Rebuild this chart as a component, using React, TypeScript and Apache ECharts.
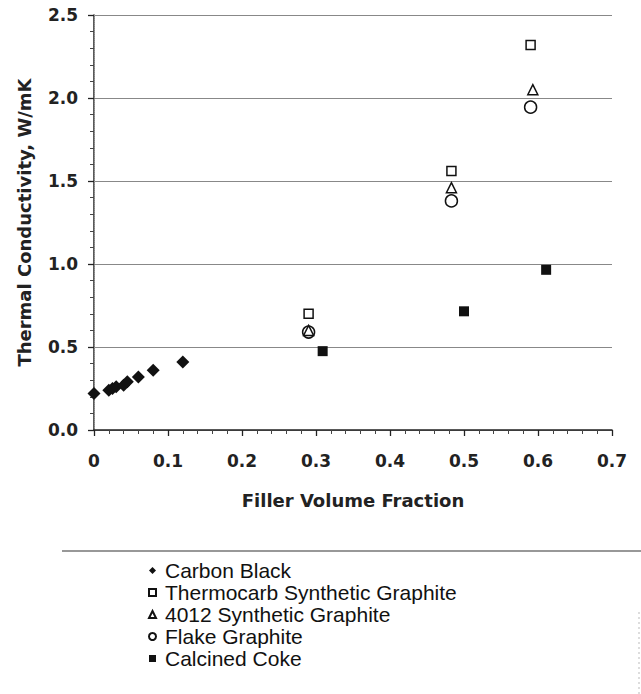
import React, { useEffect, useRef } from "react";
import * as echarts from "echarts";

const seriesNames = [
  "Carbon Black",
  "Thermocarb Synthetic Graphite",
  "4012 Synthetic Graphite",
  "Flake Graphite",
  "Calcined Coke",
];

const carbonBlackX = [0, 0.02, 0.025, 0.03, 0.04, 0.045, 0.06, 0.08, 0.12];
const carbonBlackY = [0.22, 0.24, 0.25, 0.26, 0.27, 0.29, 0.32, 0.36, 0.41];
const thermocarbX = [0.29, 0.483, 0.59];
const thermocarbY = [0.7, 1.56, 2.32];
const synth4012X = [0.29, 0.483, 0.593];
const synth4012Y = [0.6, 1.46, 2.05];
const flakeX = [0.29, 0.483, 0.59];
const flakeY = [0.59, 1.38, 1.945];
const cokeX = [0.309, 0.5, 0.611];
const cokeY = [0.475, 0.715, 0.965];

const xTicks = [0, 0.1, 0.2, 0.3, 0.4, 0.5, 0.6, 0.7];
const yTicks = [0, 0.5, 1.0, 1.5, 2.0, 2.5];

const zip = (xs: number[], ys: number[]) => xs.map((x, i) => [x, ys[i]]);

export default function App() {
  const ref = useRef<HTMLDivElement>(null);
  useEffect(() => {
    if (!ref.current) return;
    const chart = echarts.init(ref.current, undefined, { renderer: "svg" });
    const tickFont = {
      fontFamily: "DejaVu Sans",
      fontWeight: "bold" as const,
      fontSize: 17,
      color: "#222",
    };
    const titleFont = { ...tickFont, fontSize: 18 };
    const openStyle = { color: "#fff", borderColor: "#111", borderWidth: 1.5, opacity: 1 };
    const solidStyle = { color: "#111", opacity: 1 };
    chart.setOption({
      animation: false,
      backgroundColor: "#fff",
      grid: { left: 94, right: 29, top: 15, bottom: 264, containLabel: false },
      legend: {
        orient: "vertical",
        left: 148,
        top: 560,
        padding: 0,
        itemWidth: 7,
        itemHeight: 7,
        itemGap: 1,
        textStyle: {
          fontFamily: "Liberation Sans",
          fontSize: 21,
          lineHeight: 21,
          color: "#111",
          padding: [0, 0, 0, 4],
        },
        data: seriesNames,
      },
      xAxis: {
        type: "value",
        min: xTicks[0],
        max: xTicks[xTicks.length - 1],
        interval: 0.1,
        name: "Filler Volume Fraction",
        nameLocation: "middle",
        nameGap: 61,
        nameTextStyle: titleFont,
        axisLine: { show: true, onZero: false, lineStyle: { color: "#222", width: 1.5 } },
        axisTick: { show: true, length: 6, lineStyle: { color: "#222", width: 1.3 } },
        minorTick: { show: true, splitNumber: 5, length: 4, lineStyle: { color: "#444" } },
        axisLabel: {
          ...tickFont,
          margin: 22,
          formatter: (v: number) => (v === 0 ? "0" : v.toFixed(1)),
        },
        splitLine: { show: false },
      },
      yAxis: [
        {
          type: "value",
          min: yTicks[0],
          max: yTicks[yTicks.length - 1],
          interval: 0.5,
          name: "Thermal Conductivity, W/mK",
          nameLocation: "middle",
          nameGap: 61,
          nameTextStyle: titleFont,
          axisLine: { show: true, onZero: false, lineStyle: { color: "#222", width: 1.5 } },
          axisTick: { show: true, length: 6, lineStyle: { color: "#222", width: 1.3 } },
          minorTick: { show: true, splitNumber: 5, length: 4, lineStyle: { color: "#444" } },
          axisLabel: {
            ...tickFont,
            margin: 16,
            formatter: (v: number) => v.toFixed(1),
          },
          splitLine: { show: true, lineStyle: { color: "#888", width: 1 } },
        },
        {
          type: "value",
          position: "right",
          min: yTicks[0],
          max: yTicks[yTicks.length - 1],
          interval: 0.5,
          axisLine: { show: true, lineStyle: { color: "#999", width: 1, type: "dotted" } },
          axisTick: { show: false },
          axisLabel: { show: false },
          splitLine: { show: false },
        },
      ],
      graphic: [
        {
          type: "line",
          shape: { x1: 62, y1: 551, x2: 641, y2: 551 },
          style: { stroke: "#333", lineWidth: 1.2 },
        },
        {
          type: "line",
          shape: { x1: 639, y1: 612, x2: 639, y2: 694 },
          style: { stroke: "#bbb", lineWidth: 1, lineDash: [2, 3] },
        },
      ],
      series: [
        {
          name: seriesNames[0],
          type: "scatter",
          symbol: "diamond",
          symbolSize: 13,
          itemStyle: solidStyle,
          data: zip(carbonBlackX, carbonBlackY),
        },
        {
          name: seriesNames[1],
          type: "scatter",
          symbol: "rect",
          symbolSize: 9,
          itemStyle: openStyle,
          data: zip(thermocarbX, thermocarbY),
        },
        {
          name: seriesNames[2],
          type: "scatter",
          symbol: "triangle",
          symbolSize: 10,
          z: 4,
          itemStyle: openStyle,
          data: zip(synth4012X, synth4012Y),
        },
        {
          name: seriesNames[3],
          type: "scatter",
          symbol: "circle",
          symbolSize: 12,
          z: 3,
          itemStyle: openStyle,
          data: zip(flakeX, flakeY),
        },
        {
          name: seriesNames[4],
          type: "scatter",
          symbol: "rect",
          symbolSize: 10,
          itemStyle: solidStyle,
          data: zip(cokeX, cokeY),
        },
      ],
    });
    return () => chart.dispose();
  }, []);
  return (
    <div
      ref={ref}
      style={{ position: "absolute", left: 0, top: 0, width: 641, height: 694 }}
    />
  );
}
